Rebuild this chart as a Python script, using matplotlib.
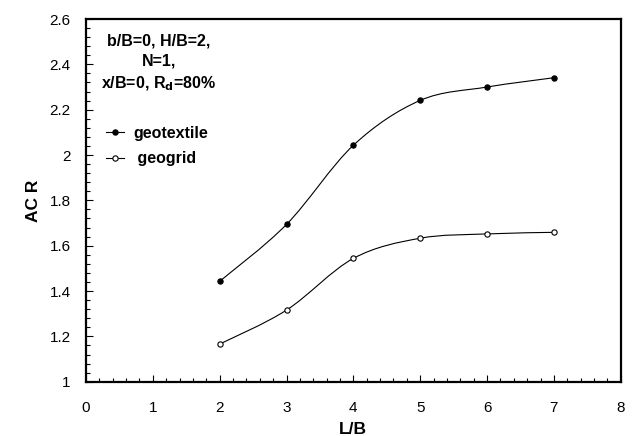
import numpy as np
import matplotlib
matplotlib.use("Agg")
import matplotlib.pyplot as plt
from matplotlib.path import Path
from matplotlib.patches import PathPatch
from matplotlib.ticker import MultipleLocator
from matplotlib.lines import Line2D

plt.rcParams['font.family'] = ['Liberation Sans', 'DejaVu Sans']

L_B = [2, 3, 4, 5, 6, 7]
geotextile = [1.443, 1.694, 2.043, 2.241, 2.300, 2.341]
geogrid = [1.166, 1.316, 1.544, 1.633, 1.652, 1.659]
x_ticks = [0, 1, 2, 3, 4, 5, 6, 7, 8]
y_ticks = [1, 1.2, 1.4, 1.6, 1.8, 2, 2.2, 2.4, 2.6]
y_tick_labels = ['1', '1.2', '1.4', '1.6', '1.8', '2', '2.2', '2.4', '2.6']


def smooth_path(xs, ys):
    xs = np.asarray(xs, float)
    ys = np.asarray(ys, float)
    n = len(xs)
    verts = [(xs[0], ys[0])]
    codes = [Path.MOVETO]
    for i in range(n - 1):
        p0 = np.array([xs[max(i - 1, 0)], ys[max(i - 1, 0)]])
        p1 = np.array([xs[i], ys[i]])
        p2 = np.array([xs[i + 1], ys[i + 1]])
        p3 = np.array([xs[min(i + 2, n - 1)], ys[min(i + 2, n - 1)]])
        c1 = p1 + (p2 - p0) / 6.0
        c2 = p2 - (p3 - p1) / 6.0
        verts += [tuple(c1), tuple(c2), tuple(p2)]
        codes += [Path.CURVE4] * 3
    return Path(verts, codes)


fig = plt.figure(figsize=(6.39, 4.36), dpi=100)
ax = fig.add_axes([0.1346, 0.1245, 0.9714 - 0.1346, 0.9564 - 0.1245])

for ys, face in [(geotextile, 'black'), (geogrid, 'white')]:
    ax.add_patch(PathPatch(smooth_path(L_B, ys), facecolor='none',
                           edgecolor='black', lw=0.8))
    ax.plot(L_B, ys, linestyle='none', marker='o', markersize=3.8,
            markerfacecolor=face, markeredgecolor='black', markeredgewidth=0.8,
            zorder=3)

ax.set_xlim(0, 8)
ax.set_ylim(1, 2.6)
ax.set_xticks(x_ticks)
ax.set_yticks(y_ticks)
ax.set_yticklabels(y_tick_labels)
ax.xaxis.set_minor_locator(MultipleLocator(0.2))
ax.yaxis.set_minor_locator(MultipleLocator(0.04))
ax.tick_params(which='both', direction='in', top=False, right=False,
               labelsize=11, width=0.8)
ax.tick_params(which='major', length=5)
ax.tick_params(which='minor', length=3)
ax.tick_params(axis='x', which='major', pad=14)
ax.tick_params(axis='y', which='major', pad=11)
for s in ax.spines.values():
    s.set_linewidth(1.6)

ax.set_xlabel('L/B', fontsize=12.5, fontweight='bold', labelpad=5)
ax.set_ylabel('AC R', fontsize=12.5, fontweight='bold', labelpad=6)

ax.text(0.1365, 0.961, 'b/B=0, H/B=2,\nN=1,\nx/B=0, R$_\\mathbf{d}$=80%',
        transform=ax.transAxes, ha='center', va='top', fontsize=11.5,
        fontweight='bold', linespacing=1.45)

handles = [
    Line2D([], [], color='black', lw=0.8, marker='o', markersize=3.8,
           markerfacecolor='black', markeredgewidth=0.8),
    Line2D([], [], color='black', lw=0.8, marker='o', markersize=3.8,
           markerfacecolor='white', markeredgewidth=0.8),
]
ax.legend(handles, ['geotextile', ' geogrid'], loc='upper left',
          bbox_to_anchor=(0.011, 0.745), frameon=False, handlelength=1.1,
          handletextpad=0.6, labelspacing=0.65,
          prop={'weight': 'bold', 'size': 11.5})

fig.savefig('out.png', dpi=100)
